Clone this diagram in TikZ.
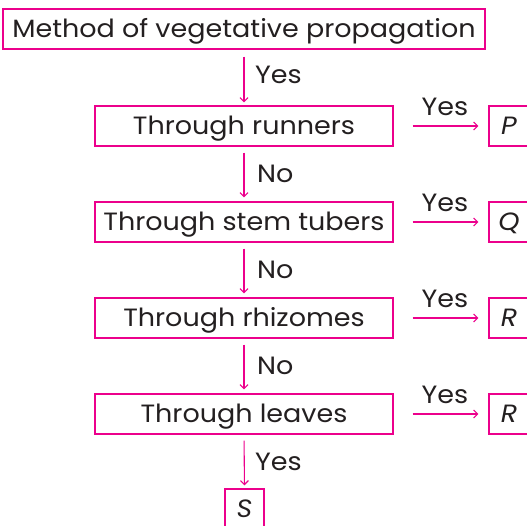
\documentclass[tikz,border=0pt]{standalone}
\usepackage{fontspec}
\setmainfont{Poppins}[FakeStretch=1.08]
\usetikzlibrary{arrows.meta}
\definecolor{pk}{RGB}{236,0,140}
\definecolor{txt}{RGB}{35,31,32}
\tikzset{
  fnt/.style={font=\fontsize{25}{28}\selectfont},
  box/.style={draw=pk, line width=1.3pt, minimum height=40pt, inner sep=0pt, text=txt, fnt, text height=17.5pt, text depth=0pt},
  mid/.style={box, minimum width=298pt},
  res/.style={box, minimum width=40pt, font=\fontsize{25}{28}\selectfont\itshape},
  arr/.style={draw=pk, line width=1.1pt, -{Straight Barb[length=4pt,width=8pt]}},
  lab/.style={text=txt, fnt, inner sep=0pt, text height=17.5pt, text depth=0pt}
}
\begin{document}
\begin{tikzpicture}[x=1pt,y=-1pt]
\useasboundingbox (0,0) rectangle (527,526);
\node[box, minimum width=482pt] (top) at (244,29) {Method of vegetative propagation};
\node[mid] (r1) at (244,126) {Through runners};
\node[mid] (r2) at (244,222) {Through stem tubers};
\node[mid] (r3) at (244,318) {Through rhizomes};
\node[mid] (r4) at (244,414) {Through leaves};
\node[res] (p) at (509,126) {P};
\node[res] (q) at (509,222) {Q};
\node[res] (r) at (509,318) {R};
\node[res] (rr) at (509,414) {R};
\node[res, minimum width=39pt] (s) at (244.5,509) {S};
\draw[arr, shorten <=7pt, shorten >=3pt] (top.south) -- (r1.north);
\draw[arr, shorten <=6pt, shorten >=4pt] (r1.south) -- (r2.north);
\draw[arr, shorten <=6pt, shorten >=4pt] (r2.south) -- (r3.north);
\draw[arr, shorten <=6pt, shorten >=4pt] (r3.south) -- (r4.north);
\draw[arr, shorten <=6pt, shorten >=3pt] (r4.south) -- (s.north);
\foreach \a/\b in {r1/p, r2/q, r3/r, r4/rr}{
  \draw[arr, shorten <=19pt, shorten >=10pt] (\a.east) -- (\b.west);
}
\node[lab, anchor=west] (y1) at (255,75) {Yes};
\node[lab, anchor=west] (n1) at (257,174) {No};
\node[lab, anchor=west] (n2) at (257,270) {No};
\node[lab, anchor=west] (n3) at (257,366) {No};
\node[lab, anchor=west] (y2) at (255,462) {Yes};
\node[lab] (ya) at (445,107) {Yes};
\node[lab] (yb) at (445,203) {Yes};
\node[lab] (yc) at (445,299) {Yes};
\node[lab] (yd) at (445,395) {Yes};
\end{tikzpicture}
\end{document}
